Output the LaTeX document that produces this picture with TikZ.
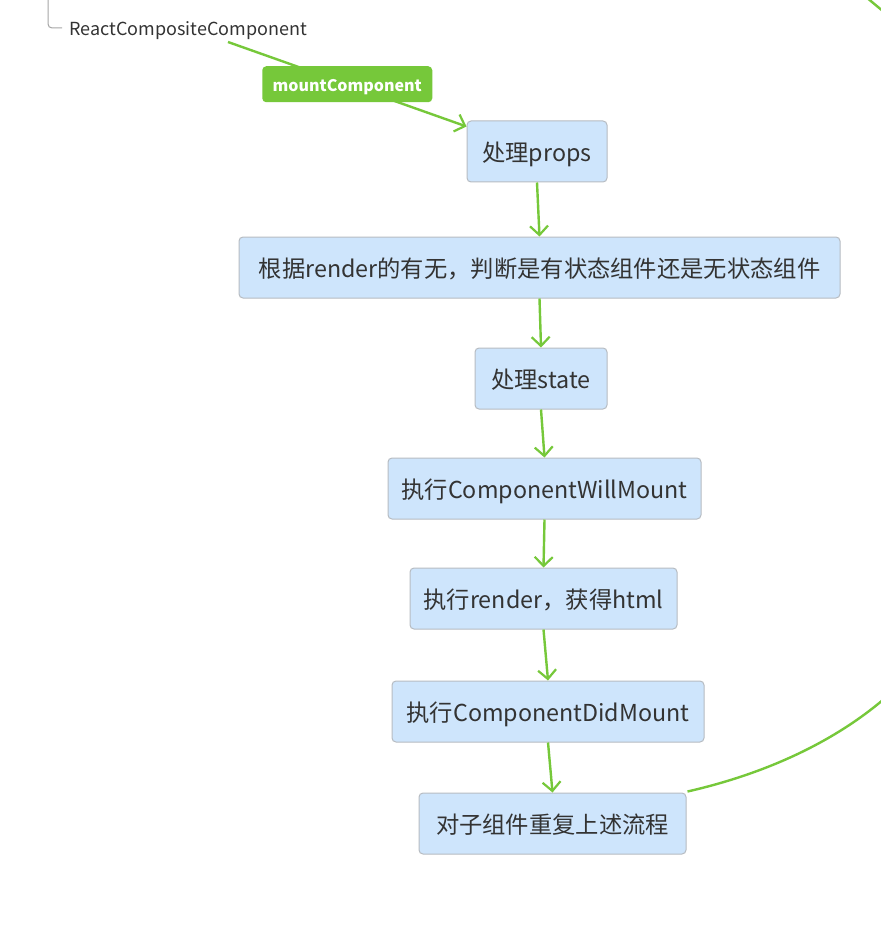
\documentclass[tikz,border=0pt]{standalone}
\usepackage{fontspec}
\setmainfont{Noto Sans CJK SC}
\usetikzlibrary{arrows.meta,calc}
\definecolor{boxfill}{HTML}{CEE5FC}
\definecolor{boxline}{HTML}{B7BCC2}
\definecolor{lgreen}{HTML}{76C83A}
\definecolor{txt}{HTML}{333333}
\tikzset{
  stepbox/.style={draw=boxline, line width=1pt, fill=boxfill, rounded corners=4pt,
    minimum height=61pt, inner xsep=0pt, text height=21pt, text depth=2pt, text=txt,
    font=\fontsize{23.3}{28}\selectfont},
  flow/.style={draw=lgreen, line width=2.4pt, -{Straight Barb[length=9pt,width=18pt,line width=2.2pt]}},
  tag/.style={fill=lgreen, rounded corners=4pt, text=white, minimum width=170pt, minimum height=36pt,
    inner sep=0pt, text height=15pt, text depth=1pt, font=\fontsize{16}{20}\selectfont\bfseries},
}
\begin{document}
\begin{tikzpicture}[x=1pt,y=-1pt]
\useasboundingbox[fill=white] (0,0) rectangle (880,944);
% top-left bracket and root label
\draw[draw=gray!70, line width=1pt, rounded corners=4pt] (48,-5) -- (48,28) -- (62,28);
\node[text=txt, font=\fontsize{18}{22}\selectfont, anchor=west, inner sep=0pt] (root) at (69,31) {ReactCompositeComponent};
\coordinate (rs) at (228,42);

\node[stepbox, minimum width=140pt] (a) at (537,151.5) {处理props};
\node[stepbox, minimum width=601pt] (b) at (539.5,267.5) {根据render的有无，判断是有状态组件还是无状态组件};
\node[stepbox, minimum width=132pt] (c) at (541,378.5) {处理state};
\node[stepbox, minimum width=313pt] (d) at (544.5,488.5) {执行ComponentWillMount};
\node[stepbox, minimum width=267pt] (e) at (543.5,598.5) {执行render，获得html};
\node[stepbox, minimum width=312pt] (f) at (548,711.5) {执行ComponentDidMount};
\node[stepbox, minimum width=267pt] (g) at (552.5,823.5) {对子组件重复上述流程};

% mountComponent connector
\draw[flow] (rs) -- node[tag] (lbl) {mountComponent} ($(a.north west)+(0,6)$);

\draw[flow] (a.south) -- (b.north);
\draw[flow] (b.south) -- (c.north);
\draw[flow] (c.south) -- (d.north);
\draw[flow] (d.south) -- (e.north);
\draw[flow] (e.south) -- (f.north);
\draw[flow] (f.south) -- (g.north);

% big curve leaving the picture
\coordinate (out1) at (884,699);
\draw[draw=lgreen, line width=2.4pt] ($(g.north east)+(1,-1)$) .. controls (760,775) and (830,745) .. (out1);
\coordinate (out2) at (866,-3);
\coordinate (out3) at (884,12);
\draw[draw=lgreen, line width=2.4pt] (out2) .. controls (872,2) .. (out3);
\end{tikzpicture}
\end{document}
